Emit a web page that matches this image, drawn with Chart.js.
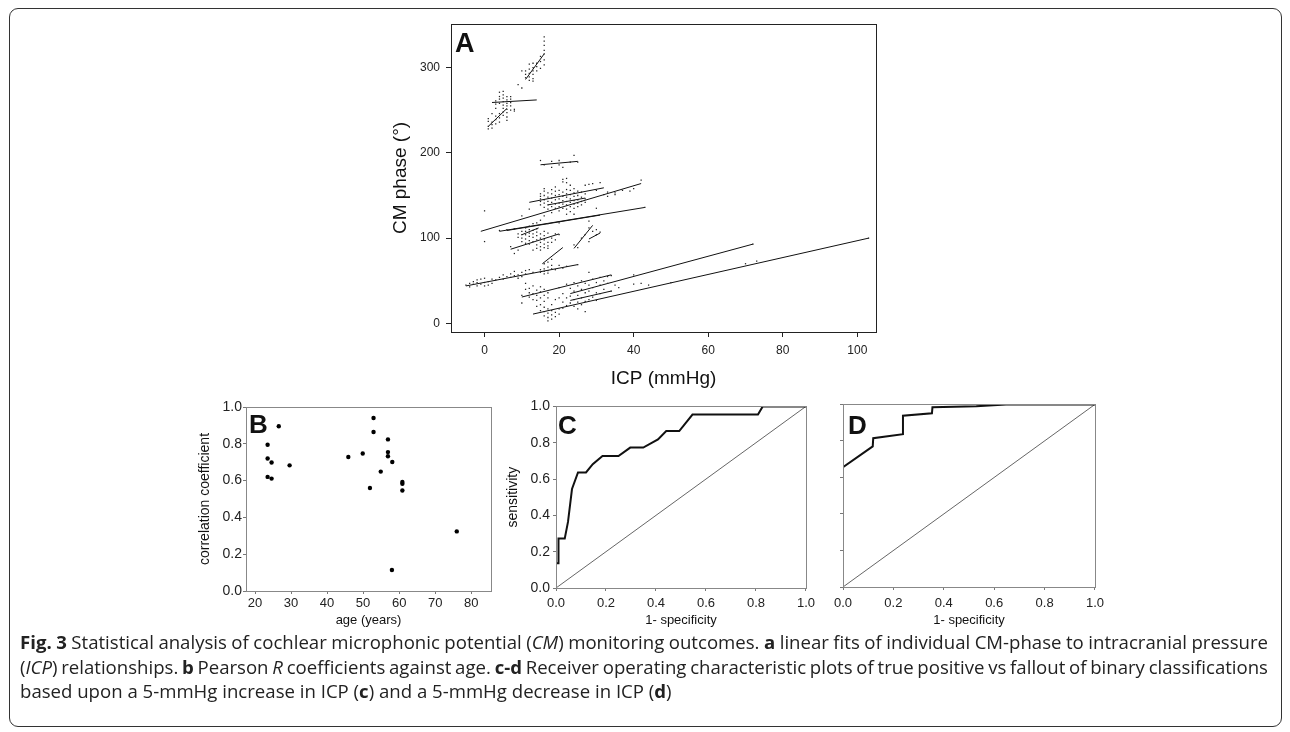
<!DOCTYPE html>
<html>
<head>
<meta charset="utf-8">
<script src="https://cdn.jsdelivr.net/npm/chart.js@4.4.0/dist/chart.umd.min.js"></script>
<style>
body { margin:0; background:#fff; width:1290px; height:732px; overflow:hidden; position:relative; font-family:"Liberation Sans", Arial, sans-serif; }
.frame { position:absolute; left:9px; top:8px; width:1273px; height:719px; border:1.5px solid #333; border-radius:9px; box-sizing:border-box; }
canvas { position:absolute; }
.tag { position:absolute; font-weight:bold; color:#111; line-height:1; font-family:"Liberation Sans", Arial, sans-serif; }
.cap { position:absolute; left:20px; font-family:"Open Sans", sans-serif; font-size:18.6px; color:#222; white-space:nowrap; line-height:24.5px; }
</style>
</head>
<body>
<div class="frame"></div>
<canvas id="chartA" width="520" height="390" style="left:370px;top:10px"></canvas>
<canvas id="chartB" width="350" height="240" style="left:150px;top:395px"></canvas>
<canvas id="chartC" width="320" height="240" style="left:500px;top:395px"></canvas>
<canvas id="chartD" width="290" height="240" style="left:820px;top:395px"></canvas>
<div class="tag" style="left:455px;top:30px;font-size:27px">A</div>
<div class="tag" style="left:249px;top:411px;font-size:26px">B</div>
<div class="tag" style="left:558px;top:412px;font-size:26px">C</div>
<div class="tag" style="left:848px;top:412px;font-size:26px">D</div>
<div class="cap just" style="top:630px"><b>Fig. 3</b> Statistical analysis of cochlear microphonic potential (<i>CM</i>) monitoring outcomes. <b>a</b> linear fits of individual CM-phase to intracranial pressure</div>
<div class="cap just" style="top:654.5px">(<i>ICP</i>) relationships. <b>b</b> Pearson <i>R</i> coefficients against age. <b>c-d</b> Receiver operating characteristic plots of true positive vs fallout of binary classifications</div>
<div class="cap" style="top:679px">based upon a 5-mmHg increase in ICP (<b>c</b>) and a 5-mmHg decrease in ICP (<b>d</b>)</div>
<script>
// ---- panel A: CM phase vs ICP, raw points [icp, phase] ----
const aXTicks = [0, 20, 40, 60, 80, 100];
const aYTicks = [0, 100, 200, 300];

const ptsTop = [[16,336],[16,331],[16,326],[16,320],[16,316],[15,313],[16,309],[15,307],[14,305],[13,305],[12,304],[14,301],[13,300],[15,299],[12,298],[11,296],[13,296],[14,296],[12,293],[11,292],[13,292],[12,289],[11,288],[13,287],[12,285],[13,284],[16,303],[10,296],[9,280],[10,276]];

const ptsUpper = [[1,228],[1,231],[2,229],[2,233],[2,236],[1,237],[3,234],[3,239],[3,243],[4,236],[4,241],[4,246],[5,244],[5,248],[5,252],[6,238],[6,242],[6,247],[6,251],[6,255],[7,250],[8,249],[3,257],[3,261],[4,258],[4,263],[4,266],[4,271],[5,256],[5,260],[5,264],[5,268],[6,258],[6,262],[7,255],[7,259],[7,263],[7,266],[8,251],[2,246],[1,240],[3,252],[6,266],[5,272]];

const ptsMid0 = [[15,191],[16,186],[18,183],[18,190],[20,191],[20,186],[21,183],[24,197],[25,189],[23,189]];

const ptsMid1 = [[15,152],[15,149],[15,146],[15,143],[15,139],[16,155],[16,150],[16,145],[16,141],[16,136],[17,153],[17,148],[17,143],[17,139],[17,134],[18,157],[18,152],[18,147],[18,142],[18,137],[19,155],[19,150],[19,145],[19,140],[19,135],[20,156],[20,151],[20,146],[20,141],[20,137],[20,132],[21,154],[21,149],[21,144],[21,140],[21,135],[22,157],[22,152],[22,148],[22,143],[22,139],[22,134],[23,156],[23,151],[23,146],[23,142],[23,137],[23,131],[24,158],[24,153],[24,149],[24,144],[24,140],[24,135],[25,155],[25,150],[25,145],[25,141],[25,137],[26,154],[26,148],[26,143],[26,139],[27,152],[27,146],[27,142],[21,166],[21,169],[22,170],[22,165],[23,162],[19,160],[16,158],[27,162],[28,163],[29,164],[30,156],[31,165],[32,151],[33,149],[33,154],[35,151],[35,153],[37,156],[39,155],[40,158],[42,168],[43,136],[30,135],[28,120],[22,128],[24,128],[18,130],[16,126],[12,134]];

const ptsMid2 = [[0,132],[0,96],[4,109],[6,110],[8,111],[9,105],[9,101],[10,108],[10,104],[10,100],[10,96],[11,112],[11,108],[11,104],[11,99],[11,94],[12,110],[12,106],[12,102],[12,97],[12,93],[13,109],[13,105],[13,101],[13,96],[14,111],[14,107],[14,103],[14,98],[14,92],[15,105],[15,100],[15,95],[15,90],[16,108],[16,103],[16,98],[16,93],[16,89],[17,106],[17,95],[17,91],[17,88],[18,100],[18,95],[19,105],[19,98],[20,104],[20,118],[17,117],[15,121],[13,117],[10,126],[8,82],[7,90],[9,86],[13,86],[14,88],[15,86],[24,92],[25,89],[26,100],[27,104],[28,96],[29,108],[30,110],[30,104],[31,107],[28,112],[12,114],[14,118]];

const ptsLow1 = [[-5,45],[-4,47],[-4,43],[-3,46],[-3,49],[-2,44],[-2,48],[-2,51],[-1,46],[-1,52],[0,44],[0,48],[0,53],[1,49],[1,45],[2,52],[2,47],[3,51],[4,54],[5,52],[5,57],[6,55],[7,54],[7,58],[8,56],[8,61],[9,53],[9,57],[10,60],[10,55],[11,62],[11,58],[12,63],[13,60],[15,63],[15,60],[16,64],[16,58],[16,61],[17,66],[17,62],[17,59],[18,68],[18,64],[19,63],[20,68],[21,65],[22,67],[25,69],[16,70],[17,72],[18,75]];

const ptsLow2 = [[10,24],[10,33],[11,40],[11,47],[12,31],[12,36],[12,41],[13,28],[13,35],[13,44],[14,20],[14,27],[14,33],[14,39],[15,15],[15,22],[15,30],[15,37],[15,43],[16,9],[16,14],[16,19],[16,26],[16,33],[16,40],[17,3],[17,7],[17,12],[17,17],[17,30],[17,36],[18,5],[18,10],[18,15],[18,22],[19,8],[19,13],[19,28],[20,17],[20,11],[20,30],[20,42],[21,18],[21,25],[21,35],[22,21],[22,30],[22,46],[23,24],[23,32],[23,41],[24,20],[24,28],[24,38],[24,48],[25,17],[25,25],[25,33],[25,44],[26,22],[26,30],[26,40],[26,50],[27,14],[27,26],[27,36],[27,47],[28,28],[28,38],[28,45],[28,60],[29,31],[29,42],[29,52],[30,27],[30,36],[30,48],[31,35],[31,45],[31,54],[32,40],[32,50],[33,47],[33,55],[34,38],[34,56],[35,45],[36,42],[40,57],[40,46],[44,45],[50,48],[70,70],[73,73],[103,100],[72,93],[42,47]];

// linear fits: [icpStart, phaseStart, icpEnd, phaseEnd]
const fitLines = [[11,286,16,316],[2,259,14,262],[1,231,6,252],[15,186,25,190],[12,142,32,159],[-1,108,42,164],[4,108,43,136],[6,109,31,127],[17,139,27,147],[7,87,20,105],[10,104,14.5,112],[24,88,29,115],[28,99,31,106],[15.5,70,21,89],[-5,44,25,69],[10,31,34,57],[23,35,72,93],[23,27,34,38],[13,11,103,100]];

// ---- panel B: correlation coefficient vs age ----
const bAge = [26.6,23.5,23.5,24.6,23.5,24.6,29.6,45.9,49.9,52.9,52.9,51.9,54.9,56.9,56.9,56.9,58.1,60.9,60.9,60.9,58,76];
const bR   = [0.895,0.795,0.72,0.698,0.62,0.611,0.683,0.728,0.747,0.94,0.864,0.56,0.649,0.824,0.755,0.732,0.701,0.592,0.583,0.546,0.114,0.324];
const bXTicks = [20, 30, 40, 50, 60, 70, 80];
const unitTicks = [0, 0.2, 0.4, 0.6, 0.8, 1.0];

// ---- panel C: ROC, 5-mmHg increase ----
const rocCx = [0,0,0.01,0.01,0.035,0.048,0.064,0.088,0.12,0.147,0.186,0.25,0.297,0.349,0.408,0.441,0.493,0.546,0.808,0.827,1.0];
const rocCy = [0,0.136,0.136,0.273,0.273,0.364,0.545,0.636,0.636,0.682,0.727,0.727,0.773,0.773,0.818,0.864,0.864,0.955,0.955,1.0,1.0];

// ---- panel D: ROC, 5-mmHg decrease ----
const rocDx = [0,0,0.118,0.12,0.238,0.238,0.353,0.355,0.529,0.647,1.0];
const rocDy = [0,0.656,0.77,0.815,0.837,0.938,0.951,0.984,0.99,1.0,1.0];

Chart.defaults.font.family = '"Liberation Sans", Arial, sans-serif';
Chart.defaults.color = '#222';

const boxPlugin = {
    id: 'box',
    afterDraw(chart, args, opts) {
        const {ctx, chartArea: a} = chart;
        ctx.save();
        ctx.strokeStyle = opts.color;
        ctx.lineWidth = 1;
        ctx.strokeRect(Math.round(a.left) + 0.5, Math.round(a.top) + 0.5, Math.round(a.right - a.left), Math.round(a.bottom - a.top));
        ctx.restore();
    }
};

function toXY(pairs) { return pairs.map(p => ({x: p[0], y: p[1]})); }
function zipXY(xs, ys) { return xs.map((x, i) => ({x: x, y: ys[i]})); }

function makeAxis(o) {
    return {
        type: 'linear',
        min: o.min, max: o.max,
        afterBuildTicks: s => { s.ticks = o.ticks.map(v => ({value: v})); },
        afterFit: s => { if (o.width !== undefined) s.width = o.width; if (o.height !== undefined) s.height = o.height; },
        grid: { drawOnChartArea: false, drawTicks: true, tickLength: o.tl, color: o.color, tickColor: o.color },
        border: { display: true, color: o.color },
        ticks: { font: {size: o.fs}, color: '#222', padding: o.pad, maxRotation: 0, autoSkip: false,
                 callback: o.fmt || (v => v) },
        title: o.title ? { display: true, text: o.title, font: {size: o.tfs}, color: '#111', padding: o.tpad } : { display: false }
    };
}

const baseOpts = {
    responsive: false, animation: false, devicePixelRatio: 1,
    plugins: { legend: { display: false }, tooltip: { enabled: false } }
};

// --- Chart A ---
const aPointSets = [ptsTop, ptsUpper, ptsMid0, ptsMid1, ptsMid2, ptsLow1, ptsLow2].map(p => ({
    data: toXY(p), pointStyle: 'rect', pointRadius: 0.9, backgroundColor: '#222', borderWidth: 0, showLine: false
}));
const aLineSets = fitLines.map(l => ({
    data: [{x: l[0], y: l[1]}, {x: l[2], y: l[3]}], showLine: true, pointRadius: 0, borderColor: '#111', borderWidth: 1
}));
new Chart(document.getElementById('chartA'), {
    type: 'scatter',
    data: { datasets: aPointSets.concat(aLineSets) },
    options: {
        ...baseOpts,
        layout: { padding: { top: 14, right: 14, left: 0, bottom: 0 } },
        plugins: { ...baseOpts.plugins, box: { color: '#222' } },
        scales: {
            x: makeAxis({min: -9, max: 105, ticks: aXTicks, height: 68, tl: 5, color: '#222', fs: 12, pad: 6,
                         title: 'ICP (mmHg)', tfs: 19, tpad: {top: 0, bottom: 10}}),
            y: makeAxis({min: -10, max: 351, ticks: aYTicks, width: 81, tl: 5, color: '#222', fs: 12, pad: 6,
                         title: 'CM phase (°)', tfs: 19, tpad: {top: 19, bottom: 0}})
        }
    },
    plugins: [boxPlugin]
});

const fmt1 = v => v.toFixed(1);

// --- Chart B ---
new Chart(document.getElementById('chartB'), {
    type: 'scatter',
    data: { datasets: [{ data: zipXY(bAge, bR), pointRadius: 2.2, backgroundColor: '#000', borderWidth: 0 }] },
    options: {
        ...baseOpts,
        layout: { padding: { top: 12, right: 9, left: 0, bottom: 0 } },
        plugins: { ...baseOpts.plugins, box: { color: '#888' } },
        scales: {
            x: makeAxis({min: 17.5, max: 85.5, ticks: bXTicks, height: 44, tl: 3, color: '#777', fs: 13, pad: 2,
                         title: 'age (years)', tfs: 13, tpad: {top: 0, bottom: 7}}),
            y: makeAxis({min: 0, max: 1, ticks: unitTicks, width: 96, tl: 3, color: '#777', fs: 14, pad: 1, fmt: fmt1,
                         title: 'correlation coefficient', tfs: 14, tpad: {top: 47, bottom: 0}})
        }
    },
    plugins: [boxPlugin]
});

// --- Chart C ---
new Chart(document.getElementById('chartC'), {
    type: 'scatter',
    data: { datasets: [
        { data: zipXY(rocCx, rocCy), showLine: true, pointRadius: 0, borderColor: '#111', borderWidth: 2 },
        { data: [{x: 0, y: 0}, {x: 1, y: 1}], showLine: true, pointRadius: 0, borderColor: '#666', borderWidth: 1 }
    ] },
    options: {
        ...baseOpts,
        layout: { padding: { top: 9, right: 9, left: 0, bottom: 0 } },
        plugins: { ...baseOpts.plugins, box: { color: '#888' } },
        scales: {
            x: makeAxis({min: 0, max: 1, ticks: unitTicks, height: 47, tl: 3, color: '#777', fs: 13, pad: 5, fmt: fmt1,
                         title: '1- specificity', tfs: 13, tpad: {top: 0, bottom: 7}}),
            y: makeAxis({min: 0, max: 1, ticks: unitTicks, width: 56, tl: 3, color: '#777', fs: 14, pad: 3, fmt: fmt1,
                         title: 'sensitivity', tfs: 14, tpad: {top: 5, bottom: 0}})
        }
    },
    plugins: [boxPlugin]
});

// --- Chart D ---
new Chart(document.getElementById('chartD'), {
    type: 'scatter',
    data: { datasets: [
        { data: zipXY(rocDx, rocDy), showLine: true, pointRadius: 0, borderColor: '#111', borderWidth: 2 },
        { data: [{x: 0, y: 0}, {x: 1, y: 1}], showLine: true, pointRadius: 0, borderColor: '#666', borderWidth: 1 }
    ] },
    options: {
        ...baseOpts,
        layout: { padding: { top: 8, right: 12, left: 0, bottom: 0 } },
        plugins: { ...baseOpts.plugins, box: { color: '#888' } },
        scales: {
            x: makeAxis({min: 0, max: 1, ticks: unitTicks, height: 48, tl: 3, color: '#777', fs: 13, pad: 6, fmt: fmt1,
                         title: '1- specificity', tfs: 13, tpad: {top: 0, bottom: 7}}),
            y: makeAxis({min: 0, max: 1, ticks: unitTicks, width: 23, tl: 3, color: '#777', fs: 14, pad: 1, fmt: () => ''})
        }
    },
    plugins: [boxPlugin]
});

// stretch the first two caption lines to the full text width
document.querySelectorAll('.cap.just').forEach(el => {
    const target = 1248;
    const spaces = (el.textContent.match(/ /g) || []).length;
    const w = el.getBoundingClientRect().width;
    el.style.wordSpacing = ((target - w) / spaces) + 'px';
});
</script>
</body>
</html>
